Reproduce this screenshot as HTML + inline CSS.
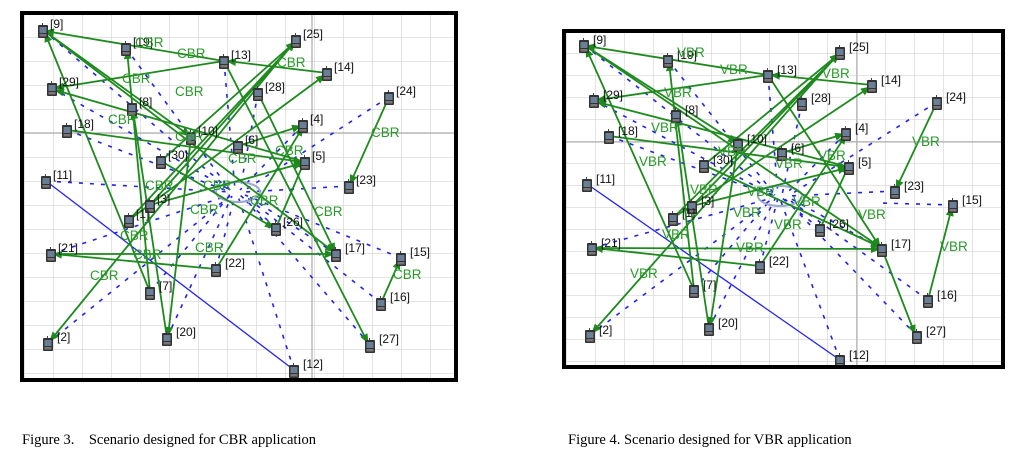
<!DOCTYPE html>
<html><head><meta charset="utf-8"><style>
body{margin:0;background:#fff;width:1018px;height:459px;overflow:hidden;position:relative;font-family:"Liberation Serif",serif}
svg{position:absolute;left:0;top:0}
.cap{position:absolute;top:432px;font-size:14.5px;color:#000;white-space:pre}
.g line{stroke:#1e8a1e;stroke-width:1.8;marker-end:url(#ar)}
.b line{stroke:#2222ee;stroke-width:1.6;stroke-dasharray:4 7}
.lab{font-family:"Liberation Sans",sans-serif;font-size:12px;fill:#111}
.t{font-family:"Liberation Sans",sans-serif;font-size:13.5px;fill:#2a9a2a}
</style></head><body>
<svg width="1018" height="459" viewBox="0 0 1018 459">
<defs>
<marker id="ar" markerWidth="10" markerHeight="8" refX="9" refY="4" orient="auto" markerUnits="userSpaceOnUse"><path d="M0,0 L10,4 L0,8 z" fill="#1e8a1e"/></marker>
<pattern id="gl" x="24" y="13" width="29" height="24" patternUnits="userSpaceOnUse"><path d="M0,0 V24 M0,0 H29" stroke="#d4d4d4" stroke-width="1.3" fill="none"/></pattern>
<pattern id="gr" x="566" y="31" width="29" height="22" patternUnits="userSpaceOnUse"><path d="M0,0 V22 M0,0 H29" stroke="#d4d4d4" stroke-width="1.3" fill="none"/></pattern>
<symbol id="n" viewBox="0 0 10 15"><rect x="4" y="0" width="1" height="3" fill="#444"/><rect x="0" y="2" width="10" height="13" rx="1" fill="#333"/><rect x="1.5" y="4" width="7" height="6" fill="#6a7f95"/><rect x="1.5" y="11" width="7" height="2.5" fill="#777"/></symbol>
</defs>

<!-- LEFT FRAME -->
<rect x="22" y="13" width="434" height="367" fill="url(#gl)"/>
<line x1="22" y1="133" x2="456" y2="133" stroke="#999" stroke-width="1"/>
<line x1="312" y1="13" x2="312" y2="380" stroke="#999" stroke-width="1"/>
<g class="b">
<line x1="43" y1="30" x2="230" y2="190"/><line x1="126" y1="48" x2="230" y2="190"/><line x1="224" y1="61" x2="235" y2="190"/>
<line x1="52" y1="88" x2="230" y2="190"/><line x1="258" y1="93" x2="240" y2="190"/><line x1="389" y1="97" x2="245" y2="190"/>
<line x1="67" y1="130" x2="230" y2="192"/><line x1="303" y1="125" x2="240" y2="190"/><line x1="46" y1="181" x2="230" y2="192"/>
<line x1="349" y1="186" x2="245" y2="192"/><line x1="276" y1="228" x2="240" y2="195"/><line x1="216" y1="269" x2="235" y2="195"/>
<line x1="150" y1="292" x2="230" y2="195"/><line x1="167" y1="338" x2="232" y2="196"/><line x1="48" y1="343" x2="230" y2="196"/>
<line x1="370" y1="345" x2="242" y2="196"/><line x1="294" y1="370" x2="238" y2="196"/><line x1="381" y1="303" x2="245" y2="196"/>
<line x1="401" y1="258" x2="245" y2="195"/><line x1="51" y1="254" x2="230" y2="195"/><line x1="336" y1="254" x2="245" y2="194"/>
</g>
<ellipse cx="238" cy="192" rx="22" ry="10" fill="none" stroke="#99aacc" stroke-width="2"/>
<line x1="46" y1="181" x2="294" y2="370" stroke="#2222ee" stroke-width="1.3"/>
<g class="g">
<line x1="224" y1="61" x2="45" y2="31"/><line x1="150" y1="292" x2="45" y2="33"/><line x1="43" y1="30" x2="334" y2="252"/>
<line x1="224" y1="61" x2="55" y2="88"/><line x1="305" y1="162" x2="55" y2="90"/><line x1="150" y1="292" x2="127" y2="50"/>
<line x1="167" y1="338" x2="133" y2="110"/><line x1="43" y1="30" x2="190" y2="136"/><line x1="161" y1="161" x2="295" y2="42"/>
<line x1="129" y1="220" x2="295" y2="42"/><line x1="150" y1="205" x2="295" y2="42"/><line x1="327" y1="73" x2="227" y2="61"/>
<line x1="67" y1="130" x2="303" y2="162"/><line x1="51" y1="254" x2="334" y2="254"/><line x1="216" y1="269" x2="53" y2="254"/>
<line x1="389" y1="97" x2="350" y2="184"/><line x1="381" y1="303" x2="400" y2="260"/><line x1="224" y1="61" x2="368" y2="343"/>
<line x1="296" y1="40" x2="50" y2="341"/><line x1="191" y1="137" x2="168" y2="336"/><line x1="129" y1="220" x2="325" y2="75"/>
<line x1="238" y1="146" x2="301" y2="126"/><line x1="150" y1="205" x2="303" y2="163"/><line x1="161" y1="161" x2="274" y2="228"/>
<line x1="276" y1="228" x2="305" y2="160"/><line x1="216" y1="269" x2="303" y2="127"/><line x1="258" y1="93" x2="335" y2="252"/>
</g>
<g>
<use href="#n" x="38" y="23" width="10" height="15"/><text class="lab" x="50" y="28">[9]</text>
<use href="#n" x="121" y="41" width="10" height="15"/><text class="lab" x="133" y="46">[19]</text>
<use href="#n" x="219" y="54" width="10" height="15"/><text class="lab" x="231" y="59">[13]</text>
<use href="#n" x="291" y="33" width="10" height="15"/><text class="lab" x="303" y="38">[25]</text>
<use href="#n" x="322" y="66" width="10" height="15"/><text class="lab" x="334" y="71">[14]</text>
<use href="#n" x="47" y="81" width="10" height="15"/><text class="lab" x="59" y="86">[29]</text>
<use href="#n" x="253" y="86" width="10" height="15"/><text class="lab" x="265" y="91">[28]</text>
<use href="#n" x="384" y="90" width="10" height="15"/><text class="lab" x="396" y="95">[24]</text>
<use href="#n" x="127" y="101" width="10" height="15"/><text class="lab" x="139" y="106">[8]</text>
<use href="#n" x="62" y="123" width="10" height="15"/><text class="lab" x="74" y="128">[18]</text>
<use href="#n" x="298" y="118" width="10" height="15"/><text class="lab" x="310" y="123">[4]</text>
<use href="#n" x="186" y="130" width="10" height="15"/><text class="lab" x="198" y="135">[10]</text>
<use href="#n" x="233" y="139" width="10" height="15"/><text class="lab" x="245" y="144">[6]</text>
<use href="#n" x="300" y="155" width="10" height="15"/><text class="lab" x="312" y="160">[5]</text>
<use href="#n" x="156" y="154" width="10" height="15"/><text class="lab" x="168" y="159">[30]</text>
<use href="#n" x="41" y="174" width="10" height="15"/><text class="lab" x="53" y="179">[11]</text>
<use href="#n" x="344" y="179" width="10" height="15"/><text class="lab" x="356" y="184">[23]</text>
<use href="#n" x="145" y="198" width="10" height="15"/><text class="lab" x="157" y="203">[3]</text>
<use href="#n" x="124" y="213" width="10" height="15"/><text class="lab" x="136" y="218">[1]</text>
<use href="#n" x="271" y="221" width="10" height="15"/><text class="lab" x="283" y="226">[26]</text>
<use href="#n" x="46" y="247" width="10" height="15"/><text class="lab" x="58" y="252">[21]</text>
<use href="#n" x="331" y="247" width="10" height="15"/><text class="lab" x="345" y="252">[17]</text>
<use href="#n" x="396" y="251" width="10" height="15"/><text class="lab" x="410" y="256">[15]</text>
<use href="#n" x="211" y="262" width="10" height="15"/><text class="lab" x="225" y="267">[22]</text>
<use href="#n" x="145" y="285" width="10" height="15"/><text class="lab" x="159" y="290">[7]</text>
<use href="#n" x="376" y="296" width="10" height="15"/><text class="lab" x="390" y="301">[16]</text>
<use href="#n" x="162" y="331" width="10" height="15"/><text class="lab" x="176" y="336">[20]</text>
<use href="#n" x="43" y="336" width="10" height="15"/><text class="lab" x="57" y="341">[2]</text>
<use href="#n" x="365" y="338" width="10" height="15"/><text class="lab" x="379" y="343">[27]</text>
<use href="#n" x="289" y="363" width="10" height="15"/><text class="lab" x="303" y="368">[12]</text>
</g>
<g class="t">
<text x="135" y="47">CBR</text><text x="177" y="58">CBR</text><text x="277" y="67">CBR</text><text x="122" y="83">CBR</text>
<text x="175" y="96">CBR</text><text x="108" y="124">CBR</text><text x="175" y="141">CBR</text><text x="228" y="163">CBR</text>
<text x="275" y="155">CBR</text><text x="145" y="190">CBR</text><text x="203" y="190">CBR</text><text x="250" y="205">CBR</text>
<text x="190" y="214">CBR</text><text x="314" y="216">CBR</text><text x="120" y="240">CBR</text><text x="195" y="252">CBR</text>
<text x="133" y="259">CBR</text><text x="90" y="280">CBR</text><text x="371" y="137">CBR</text><text x="393" y="279">CBR</text>
</g>
<rect x="22" y="13" width="434" height="367" fill="none" stroke="#000" stroke-width="4"/>

<!-- RIGHT FRAME -->
<rect x="564" y="31" width="439" height="336" fill="url(#gr)"/>
<line x1="564" y1="142" x2="1003" y2="142" stroke="#aaa" stroke-width="1"/>
<line x1="857" y1="31" x2="857" y2="367" stroke="#aaa" stroke-width="1"/>
<g class="b">
<line x1="584" y1="45" x2="775" y2="195"/><line x1="668" y1="60" x2="775" y2="195"/><line x1="768" y1="75" x2="778" y2="195"/>
<line x1="594" y1="100" x2="772" y2="195"/><line x1="802" y1="103" x2="782" y2="195"/><line x1="937" y1="102" x2="790" y2="195"/>
<line x1="609" y1="136" x2="772" y2="196"/><line x1="846" y1="133" x2="785" y2="195"/><line x1="895" y1="191" x2="788" y2="196"/>
<line x1="953" y1="205" x2="880" y2="203"/><line x1="820" y1="229" x2="782" y2="198"/><line x1="760" y1="266" x2="778" y2="198"/>
<line x1="694" y1="290" x2="772" y2="198"/><line x1="709" y1="328" x2="775" y2="199"/><line x1="590" y1="335" x2="772" y2="199"/>
<line x1="917" y1="336" x2="785" y2="199"/><line x1="840" y1="360" x2="780" y2="199"/><line x1="928" y1="300" x2="788" y2="199"/>
<line x1="592" y1="248" x2="772" y2="198"/><line x1="882" y1="249" x2="788" y2="197"/>
</g>
<ellipse cx="780" cy="196" rx="22" ry="10" fill="none" stroke="#99aacc" stroke-width="2"/>
<line x1="587" y1="184" x2="840" y2="360" stroke="#2222ee" stroke-width="1.3"/>
<g class="g">
<line x1="768" y1="75" x2="586" y2="46"/><line x1="694" y1="290" x2="586" y2="48"/><line x1="584" y1="45" x2="880" y2="247"/>
<line x1="768" y1="75" x2="597" y2="100"/><line x1="849" y1="167" x2="597" y2="102"/><line x1="694" y1="290" x2="669" y2="62"/>
<line x1="709" y1="328" x2="677" y2="117"/><line x1="584" y1="45" x2="737" y2="143"/><line x1="704" y1="165" x2="839" y2="54"/>
<line x1="673" y1="218" x2="839" y2="54"/><line x1="692" y1="206" x2="839" y2="54"/><line x1="872" y1="85" x2="771" y2="75"/>
<line x1="609" y1="136" x2="847" y2="167"/><line x1="592" y1="248" x2="880" y2="249"/><line x1="760" y1="266" x2="594" y2="248"/>
<line x1="937" y1="102" x2="896" y2="189"/><line x1="928" y1="300" x2="952" y2="207"/><line x1="882" y1="249" x2="915" y2="334"/>
<line x1="840" y1="52" x2="592" y2="333"/><line x1="738" y1="144" x2="710" y2="326"/><line x1="673" y1="218" x2="870" y2="87"/>
<line x1="782" y1="153" x2="844" y2="134"/><line x1="692" y1="206" x2="847" y2="168"/><line x1="704" y1="165" x2="880" y2="247"/>
<line x1="820" y1="229" x2="849" y2="165"/><line x1="760" y1="266" x2="846" y2="135"/><line x1="768" y1="75" x2="880" y2="247"/>
</g>
<g>
<use href="#n" x="579" y="38" width="10" height="15"/><text class="lab" x="593" y="44">[9]</text>
<use href="#n" x="663" y="53" width="10" height="15"/><text class="lab" x="677" y="59">[19]</text>
<use href="#n" x="763" y="68" width="10" height="15"/><text class="lab" x="777" y="74">[13]</text>
<use href="#n" x="835" y="45" width="10" height="15"/><text class="lab" x="849" y="51">[25]</text>
<use href="#n" x="867" y="78" width="10" height="15"/><text class="lab" x="881" y="84">[14]</text>
<use href="#n" x="589" y="93" width="10" height="15"/><text class="lab" x="603" y="99">[29]</text>
<use href="#n" x="797" y="96" width="10" height="15"/><text class="lab" x="811" y="102">[28]</text>
<use href="#n" x="932" y="95" width="10" height="15"/><text class="lab" x="946" y="101">[24]</text>
<use href="#n" x="671" y="108" width="10" height="15"/><text class="lab" x="685" y="114">[8]</text>
<use href="#n" x="604" y="129" width="10" height="15"/><text class="lab" x="618" y="135">[18]</text>
<use href="#n" x="841" y="126" width="10" height="15"/><text class="lab" x="855" y="132">[4]</text>
<use href="#n" x="733" y="137" width="10" height="15"/><text class="lab" x="747" y="143">[10]</text>
<use href="#n" x="777" y="146" width="10" height="15"/><text class="lab" x="791" y="152">[6]</text>
<use href="#n" x="844" y="160" width="10" height="15"/><text class="lab" x="858" y="166">[5]</text>
<use href="#n" x="699" y="158" width="10" height="15"/><text class="lab" x="713" y="164">[30]</text>
<use href="#n" x="582" y="177" width="10" height="15"/><text class="lab" x="596" y="183">[11]</text>
<use href="#n" x="890" y="184" width="10" height="15"/><text class="lab" x="904" y="190">[23]</text>
<use href="#n" x="948" y="198" width="10" height="15"/><text class="lab" x="962" y="204">[15]</text>
<use href="#n" x="687" y="199" width="10" height="15"/><text class="lab" x="701" y="205">[3]</text>
<use href="#n" x="668" y="211" width="10" height="15"/><text class="lab" x="682" y="217">[1]</text>
<use href="#n" x="815" y="222" width="10" height="15"/><text class="lab" x="829" y="228">[26]</text>
<use href="#n" x="587" y="241" width="10" height="15"/><text class="lab" x="601" y="247">[21]</text>
<use href="#n" x="877" y="242" width="10" height="15"/><text class="lab" x="891" y="248">[17]</text>
<use href="#n" x="755" y="259" width="10" height="15"/><text class="lab" x="769" y="265">[22]</text>
<use href="#n" x="689" y="283" width="10" height="15"/><text class="lab" x="703" y="289">[7]</text>
<use href="#n" x="923" y="293" width="10" height="15"/><text class="lab" x="937" y="299">[16]</text>
<use href="#n" x="704" y="321" width="10" height="15"/><text class="lab" x="718" y="327">[20]</text>
<use href="#n" x="585" y="328" width="10" height="15"/><text class="lab" x="599" y="334">[2]</text>
<use href="#n" x="912" y="329" width="10" height="15"/><text class="lab" x="926" y="335">[27]</text>
<use href="#n" x="835" y="353" width="10" height="15"/><text class="lab" x="849" y="359">[12]</text>
</g>
<g class="t">
<text x="677" y="57">VBR</text><text x="720" y="74">VBR</text><text x="822" y="78">VBR</text><text x="664" y="97">VBR</text>
<text x="651" y="132">VBR</text><text x="639" y="166">VBR</text><text x="718" y="156">VBR</text><text x="775" y="168">VBR</text>
<text x="818" y="160">VBR</text><text x="690" y="194">VBR</text><text x="747" y="196">VBR</text><text x="793" y="206">VBR</text>
<text x="733" y="217">VBR</text><text x="858" y="219">VBR</text><text x="662" y="239">VBR</text><text x="774" y="229">VBR</text>
<text x="736" y="252">VBR</text><text x="630" y="278">VBR</text><text x="912" y="146">VBR</text><text x="940" y="251">VBR</text>
</g>
<rect x="564" y="31" width="439" height="336" fill="none" stroke="#000" stroke-width="4"/>
</svg>
<div class="cap" style="left:22px">Figure 3.    Scenario designed for CBR application</div>
<div class="cap" style="left:568px">Figure 4. Scenario designed for VBR application</div>
</body></html>
